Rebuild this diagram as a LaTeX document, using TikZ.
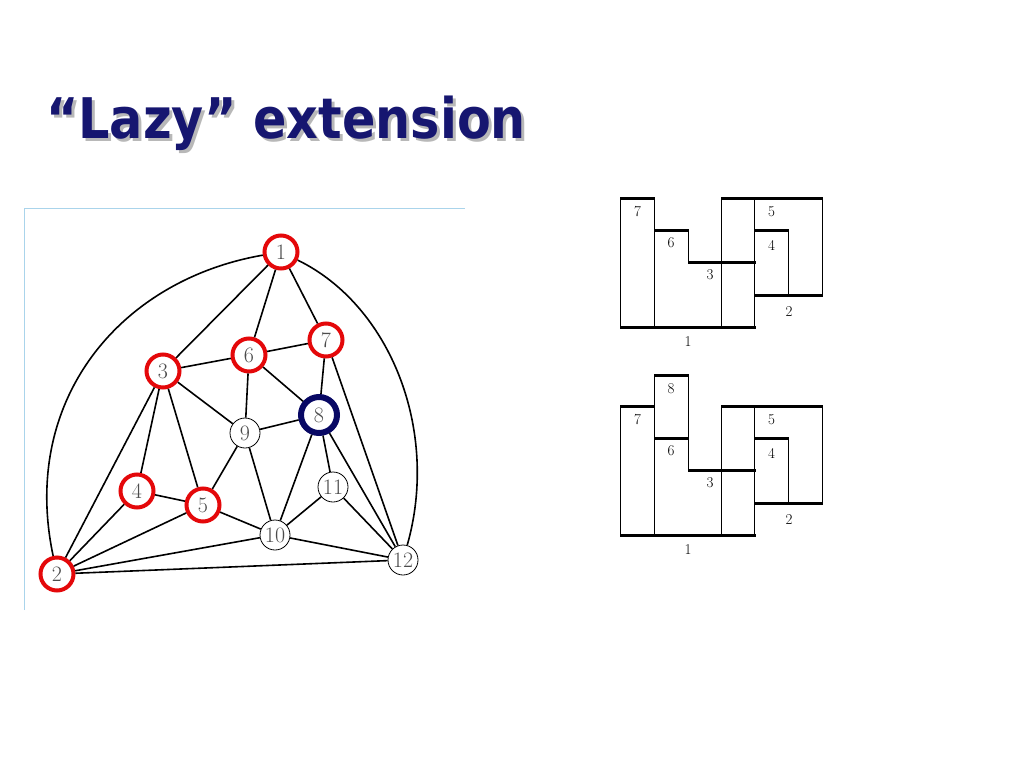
\documentclass[tikz,border=0pt]{standalone}
\usepackage{fontspec}
\newfontfamily\titlefont{DejaVu Sans}
\usepackage{graphicx}
\usepackage{tikz}
\definecolor{titleblue}{RGB}{22,22,112}
\definecolor{nodered}{RGB}{228,8,10}
\definecolor{nodenavy}{RGB}{8,8,100}
\definecolor{framebl}{RGB}{170,212,235}
\newcommand{\lazytitle}{\scalebox{0.88}[1]{“Lazy” extension}}

\begin{document}
\begin{tikzpicture}[x=1pt,y=-1pt,
  marked/.style={circle,draw=nodered,line width=4pt,minimum size=33pt,inner sep=0pt,
    text=black!70,font=\fontsize{22}{22}\selectfont},
  current/.style={marked,draw=nodenavy,line width=6pt,minimum size=36pt},
  free/.style={marked,draw=black,line width=0.8pt,minimum size=30pt},
  heading/.style={anchor=base west,inner sep=0pt,font=\titlefont\bfseries\fontsize{56}{56}\selectfont},
  bar/.style={line width=3pt},
  post/.style={line width=1pt},
  lbl/.style={inner sep=0pt,font=\fontsize{15}{15}\selectfont}]
  \useasboundingbox (0,0) rectangle (1024,768);
  % title
  \node[heading,text=black!28] (shadow) at (49,141) {\lazytitle};
  \node[heading,text=titleblue] (title) at (46,138) {\lazytitle};
  % frame of the graph picture
  \draw[framebl,line width=0.8pt] (24,610)--(24,208)--(465,208);
  % graph
  \node[marked] (n1) at (281,252) {1};
  \node[marked] (n2) at (57,574) {2};
  \node[marked] (n3) at (163,371) {3};
  \node[marked] (n4) at (137,491) {4};
  \node[marked] (n5) at (203,505) {5};
  \node[marked] (n6) at (249,355) {6};
  \node[marked] (n7) at (326,340) {7};
  \node[current] (n8) at (319,415) {8};
  \node[free] (n9) at (245,433) {9};
  \node[free] (n10) at (275,535) {10};
  \node[free] (n11) at (333,487) {11};
  \node[free] (n12) at (403,560) {12};
  \draw[line width=1.6pt] (n1)--(n3) (n1)--(n6) (n1)--(n7)
    (n2)--(n3) (n2)--(n4) (n2)--(n5) (n2)--(n10) (n2)--(n12)
    (n3)--(n6) (n3)--(n4) (n3)--(n5) (n3)--(n9)
    (n6)--(n7) (n6)--(n9) (n6)--(n8) (n7)--(n8) (n7)--(n12)
    (n8)--(n9) (n8)--(n10) (n8)--(n11) (n8)--(n12)
    (n9)--(n5) (n9)--(n10) (n4)--(n5) (n5)--(n10)
    (n10)--(n11) (n10)--(n12) (n11)--(n12);
  \draw[line width=1.6pt] (n1)..controls (120,280) and (20,400)..(n2);
  \draw[line width=1.6pt] (n1)..controls (390,305) and (440,430)..(n12);
  % intervals before
  \draw[bar] (620,198)--(655,198) (654,230.5)--(689,230.5) (688,262.5)--(756,262.5)
    (620,327)--(756,327) (721,198)--(823,198) (755,230.5)--(789,230.5) (755,295)--(823,295);
  \draw[post] (620.5,198)--(620.5,327) (654.5,198)--(654.5,327) (688.5,230.5)--(688.5,262.5)
    (721,198)--(721,327) (754.5,198)--(754.5,327) (788.5,230.5)--(788.5,295) (822,198)--(822,295);
  \node[lbl] (a7) at (637.5,212) {7};
  \node[lbl] (a6) at (671,243) {6};
  \node[lbl] (a3) at (710,275) {3};
  \node[lbl] (a1) at (688,342) {1};
  \node[lbl] (a5) at (771.5,212) {5};
  \node[lbl] (a4) at (771.5,245) {4};
  \node[lbl] (a2) at (789,312) {2};
  % intervals after adding 8
  \begin{scope}[yshift=-208pt]
  \draw[bar] (654,167)--(689,167) (620,198)--(655,198) (654,230.5)--(689,230.5) (688,262.5)--(756,262.5)
    (620,327)--(756,327) (721,198)--(823,198) (755,230.5)--(789,230.5) (755,295)--(823,295);
  \draw[post] (620.5,198)--(620.5,327) (654.5,167)--(654.5,327) (688.5,167)--(688.5,262.5)
    (721,198)--(721,327) (754.5,198)--(754.5,327) (788.5,230.5)--(788.5,295) (822,198)--(822,295);
  \node[lbl] (b8) at (671,181) {8};
  \node[lbl] (b7) at (637.5,212) {7};
  \node[lbl] (b6) at (671,243) {6};
  \node[lbl] (b3) at (710,275) {3};
  \node[lbl] (b1) at (688,342) {1};
  \node[lbl] (b5) at (771.5,212) {5};
  \node[lbl] (b4) at (771.5,245) {4};
  \node[lbl] (b2) at (789,312) {2};
  \end{scope}
\end{tikzpicture}
\end{document}
